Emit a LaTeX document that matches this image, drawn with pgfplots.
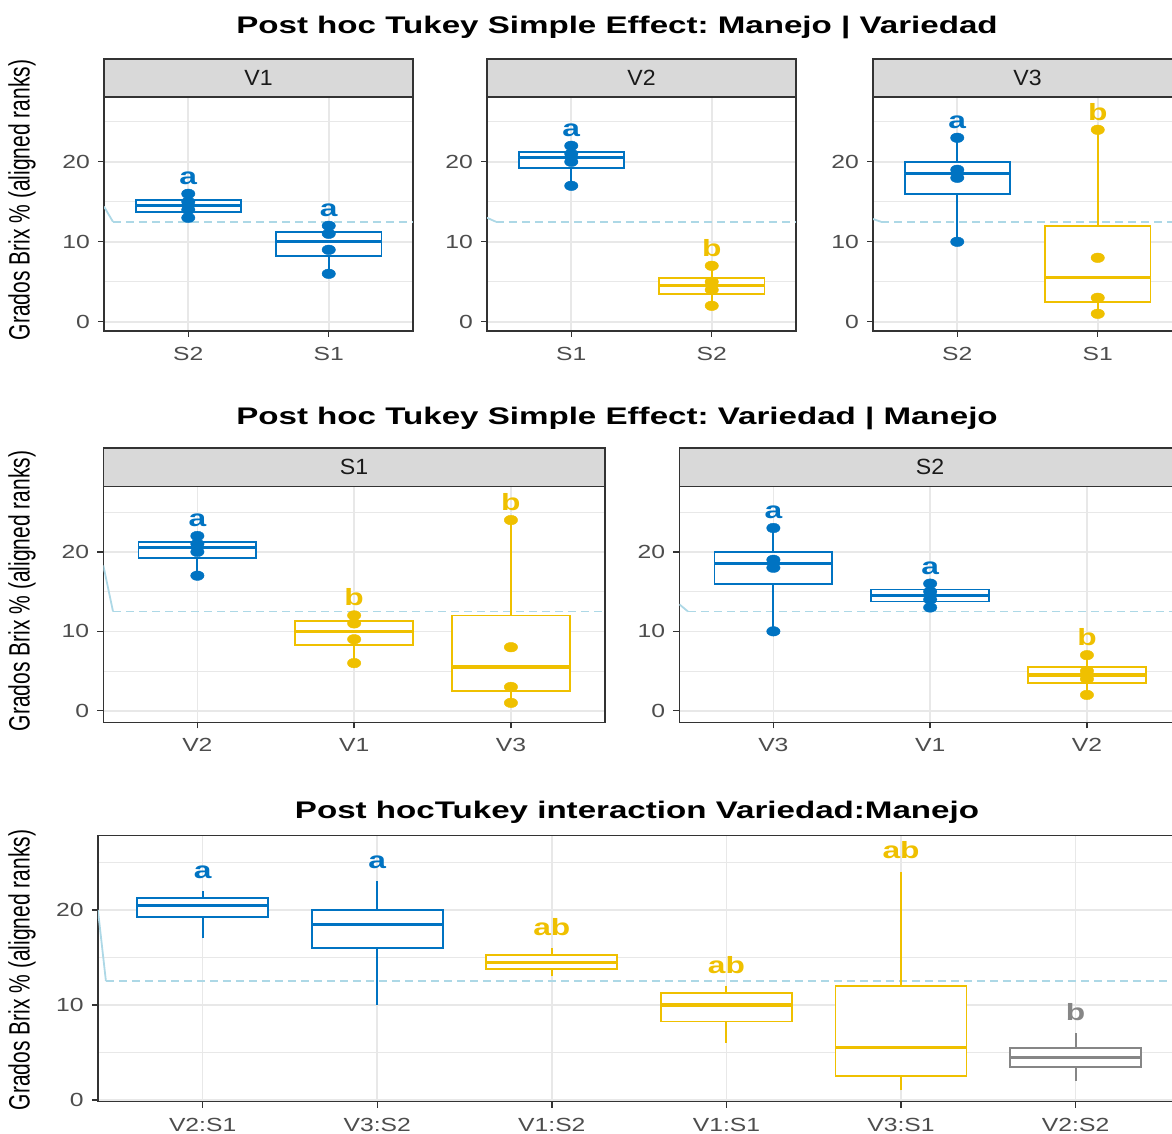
\documentclass[border=0pt]{standalone}
\usepackage{pgfplots}
\pgfplotsset{compat=1.18}
\usepgfplotslibrary{statistics}
\usepackage{graphicx}
\usepackage{fontspec}
\setmainfont{Liberation Sans}
\frenchspacing
\definecolor{jblue}{HTML}{0073C2}
\definecolor{jyel}{HTML}{EFC000}
\definecolor{jgray}{HTML}{868686}
\definecolor{c33}{HTML}{333333}
\definecolor{c4d}{HTML}{4D4D4D}
\definecolor{c1a}{HTML}{1A1A1A}
\definecolor{gridc}{HTML}{E8E8E8}
\definecolor{stripc}{HTML}{D9D9D9}
\definecolor{lblue}{HTML}{ADD8E6}
\newcommand\st[2][1.3]{\scalebox{#1}[1]{#2}}
\newcommand\tl[1]{\st[1.3]{#1}}
\newcommand\lt[2]{\st[1.35]{\fontsize{23.5}{23.5}\selectfont\bfseries\color{#1}#2}}
\newcommand\ttl[1]{\st[1.38]{\fontsize{24}{24}\selectfont\bfseries #1}}
\newcommand\ylab{\st[1.4]{\rotatebox{90}{\fontsize{21}{21}\selectfont Grados Brix \% (aligned ranks)}}}
% whiskers: color, x, lower whisker, q1, q3, upper whisker
\newcommand\whk[6]{%
  \addplot[#1, line width=2.1pt] coordinates {(#2,#3) (#2,#4)};%
  \addplot[#1, line width=2.1pt] coordinates {(#2,#5) (#2,#6)};}
\pgfplotsset{
  boxplot/every box/.style={line width=1.8pt},
  boxplot/every whisker/.style={line width=1.8pt},
  boxplot/every median/.style={line width=3.2pt},
  gg/.style={
    scale only axis, anchor=south west,
    axis line style={draw=c33, line width=1.4pt},
    tick pos=left, tick align=outside,
    major tick length=6pt, minor tick length=0pt,
    tick style={draw=c33, line width=1.4pt},
    xmajorgrids, ymajorgrids, yminorgrids,
    major grid style={draw=gridc, line width=1.6pt},
    minor grid style={draw=gridc, line width=0.9pt},
    ytick={0,10,20}, minor ytick={5,15,25},
    yticklabels={\tl{0},\tl{10},\tl{20}},
    tick label style={font=\fontsize{19}{19}\selectfont, text=c4d, inner sep=0pt},
    yticklabel style={anchor=east, xshift=-8pt},
    xticklabel style={anchor=north, yshift=-10pt},
  },
  bx/.style={boxplot prepared={#1}, boxplot/draw direction=y, solid, line width=1.8pt, fill=white,
    boxplot/box extend=0.75, boxplot/whisker extend=0},
  pts/.style={only marks, mark=*, mark size=4.8pt, mark options={xscale=1.4}},
  hl/.style={draw=lblue, line width=1.8pt},
  hd/.style={draw=lblue, line width=1.8pt, dash pattern=on 8pt off 5pt},
}
\begin{document}
\begin{tikzpicture}
\useasboundingbox (0pt,0pt) rectangle (1172pt,1133pt);
% ---------- titles and y labels
\node[anchor=base] at (617pt,1099pt) {\ttl{Post hoc Tukey Simple Effect: Manejo | Variedad}};
\node[anchor=base] at (617pt,708.5pt) {\ttl{Post hoc Tukey Simple Effect: Variedad | Manejo}};
\node[anchor=base] at (637pt,314.5pt) {\ttl{Post hocTukey interaction Variedad:Manejo}};
\node at (22pt,933pt) {\ylab};
\node at (22pt,542pt) {\ylab};
\node at (22pt,163pt) {\ylab};
% ---------- strips row 1
\draw[fill=stripc, draw=c33, line width=1.4pt] (104pt,1036pt) rectangle (413pt,1074pt);
\draw[fill=stripc, draw=c33, line width=1.4pt] (487pt,1036pt) rectangle (796pt,1074pt);
\draw[fill=stripc, draw=c33, line width=1.4pt] (873pt,1036pt) rectangle (1182pt,1074pt);
\node[text=c1a] at (258.5pt,1055pt) {\st[1.05]{\fontsize{22}{22}\selectfont V1}};
\node[text=c1a] at (641.5pt,1055pt) {\st[1.05]{\fontsize{22}{22}\selectfont V2}};
\node[text=c1a] at (1027.5pt,1055pt) {\st[1.05]{\fontsize{22}{22}\selectfont V3}};
% ---------- strips row 2
\draw[fill=stripc, draw=c33, line width=1.4pt] (103.3pt,646.4pt) rectangle (605pt,685pt);
\draw[fill=stripc, draw=c33, line width=1.4pt] (679.3pt,646.4pt) rectangle (1181pt,685pt);
\node[text=c1a] at (354pt,665.7pt) {\st[1.05]{\fontsize{22}{22}\selectfont S1}};
\node[text=c1a] at (930pt,665.7pt) {\st[1.05]{\fontsize{22}{22}\selectfont S2}};

% ================= Row 1: V1
\begin{axis}[gg, at={(104pt,802pt)}, width=309pt, height=234pt,
  xmin=0.4, xmax=2.6, ymin=-1.15, ymax=28.1,
  xtick={1,2}, xticklabels={\tl{S2},\tl{S1}}]
\addplot[hl] coordinates {(0.4,14.4) (0.464,12.5)};
\addplot[hd] coordinates {(0.464,12.5) (2.6,12.5)};
\addplot[jblue, bx={draw position=1, lower whisker=13, lower quartile=13.75, median=14.5, upper quartile=15.25, upper whisker=16}] coordinates {};
\addplot[jblue, bx={draw position=2, lower whisker=6, lower quartile=8.25, median=10, upper quartile=11.25, upper whisker=12}] coordinates {};
\whk{jblue}{1}{13}{13.75}{15.25}{16}
\whk{jblue}{2}{6}{8.25}{11.25}{12}
\addplot[jblue, pts] coordinates {(1,13) (1,14) (1,15) (1,16)};
\addplot[jblue, pts] coordinates {(2,6) (2,9) (2,11) (2,12)};
\node[anchor=base, inner sep=0pt] at (axis cs:1,17.2) {\lt{jblue}{a}};
\node[anchor=base, inner sep=0pt] at (axis cs:2,13.2) {\lt{jblue}{a}};
\end{axis}
% ================= Row 1: V2
\begin{axis}[gg, at={(487pt,802pt)}, width=309pt, height=234pt,
  xmin=0.4, xmax=2.6, ymin=-1.15, ymax=28.1,
  xtick={1,2}, xticklabels={\tl{S1},\tl{S2}}]
\addplot[hl] coordinates {(0.4,13.0) (0.464,12.5)};
\addplot[hd] coordinates {(0.464,12.5) (2.6,12.5)};
\addplot[jblue, bx={draw position=1, lower whisker=17, lower quartile=19.25, median=20.5, upper quartile=21.25, upper whisker=22}] coordinates {};
\addplot[jyel, bx={draw position=2, lower whisker=2, lower quartile=3.5, median=4.5, upper quartile=5.5, upper whisker=7}] coordinates {};
\whk{jblue}{1}{17}{19.25}{21.25}{22}
\whk{jyel}{2}{2}{3.5}{5.5}{7}
\addplot[jblue, pts] coordinates {(1,17) (1,20) (1,21) (1,22)};
\addplot[jyel, pts] coordinates {(2,2) (2,4) (2,5) (2,7)};
\node[anchor=base, inner sep=0pt] at (axis cs:1,23.2) {\lt{jblue}{a}};
\node[anchor=base, inner sep=0pt] at (axis cs:2,8.2) {\lt{jyel}{b}};
\end{axis}
% ================= Row 1: V3
\begin{axis}[gg, at={(873pt,802pt)}, width=309pt, height=234pt,
  xmin=0.4, xmax=2.6, ymin=-1.15, ymax=28.1,
  xtick={1,2}, xticklabels={\tl{S2},\tl{S1}}]
\addplot[hl] coordinates {(0.4,12.85) (0.457,12.5)};
\addplot[hd] coordinates {(0.457,12.5) (2.6,12.5)};
\addplot[jblue, bx={draw position=1, lower whisker=10, lower quartile=16, median=18.5, upper quartile=20, upper whisker=23}] coordinates {};
\addplot[jyel, bx={draw position=2, lower whisker=1, lower quartile=2.5, median=5.5, upper quartile=12, upper whisker=24}] coordinates {};
\whk{jblue}{1}{10}{16}{20}{23}
\whk{jyel}{2}{1}{2.5}{12}{24}
\addplot[jblue, pts] coordinates {(1,10) (1,18) (1,19) (1,23)};
\addplot[jyel, pts] coordinates {(2,1) (2,3) (2,8) (2,24)};
\node[anchor=base, inner sep=0pt] at (axis cs:1,24.2) {\lt{jblue}{a}};
\node[anchor=base, inner sep=0pt] at (axis cs:2,25.2) {\lt{jyel}{b}};
\end{axis}

% ================= Row 2: S1
\begin{axis}[gg, at={(103.3pt,410.7pt)}, width=501.7pt, height=235.6pt,
  xmin=0.4, xmax=3.6, ymin=-1.45, ymax=28.2,
  xtick={1,2,3}, xticklabels={\tl{V2},\tl{V1},\tl{V3}}]
\addplot[hl] coordinates {(0.4,18.3) (0.462,12.5)};
\addplot[hd] coordinates {(0.462,12.5) (3.6,12.5)};
\addplot[jblue, bx={draw position=1, lower whisker=17, lower quartile=19.25, median=20.5, upper quartile=21.25, upper whisker=22}] coordinates {};
\addplot[jyel, bx={draw position=2, lower whisker=6, lower quartile=8.25, median=10, upper quartile=11.25, upper whisker=12}] coordinates {};
\addplot[jyel, bx={draw position=3, lower whisker=1, lower quartile=2.5, median=5.5, upper quartile=12, upper whisker=24}] coordinates {};
\whk{jblue}{1}{17}{19.25}{21.25}{22}
\whk{jyel}{2}{6}{8.25}{11.25}{12}
\whk{jyel}{3}{1}{2.5}{12}{24}
\addplot[jblue, pts] coordinates {(1,17) (1,20) (1,21) (1,22)};
\addplot[jyel, pts] coordinates {(2,6) (2,9) (2,11) (2,12)};
\addplot[jyel, pts] coordinates {(3,1) (3,3) (3,8) (3,24)};
\node[anchor=base, inner sep=0pt] at (axis cs:1,23.2) {\lt{jblue}{a}};
\node[anchor=base, inner sep=0pt] at (axis cs:2,13.2) {\lt{jyel}{b}};
\node[anchor=base, inner sep=0pt] at (axis cs:3,25.2) {\lt{jyel}{b}};
\end{axis}
% ================= Row 2: S2
\begin{axis}[gg, at={(679.3pt,410.7pt)}, width=501.7pt, height=235.6pt,
  xmin=0.4, xmax=3.6, ymin=-1.45, ymax=28.2,
  xtick={1,2,3}, xticklabels={\tl{V3},\tl{V1},\tl{V2}}]
\addplot[hl] coordinates {(0.4,13.4) (0.455,12.5)};
\addplot[hd] coordinates {(0.455,12.5) (3.6,12.5)};
\addplot[jblue, bx={draw position=1, lower whisker=10, lower quartile=16, median=18.5, upper quartile=20, upper whisker=23}] coordinates {};
\addplot[jblue, bx={draw position=2, lower whisker=13, lower quartile=13.75, median=14.5, upper quartile=15.25, upper whisker=16}] coordinates {};
\addplot[jyel, bx={draw position=3, lower whisker=2, lower quartile=3.5, median=4.5, upper quartile=5.5, upper whisker=7}] coordinates {};
\whk{jblue}{1}{10}{16}{20}{23}
\whk{jblue}{2}{13}{13.75}{15.25}{16}
\whk{jyel}{3}{2}{3.5}{5.5}{7}
\addplot[jblue, pts] coordinates {(1,10) (1,18) (1,19) (1,23)};
\addplot[jblue, pts] coordinates {(2,13) (2,14) (2,15) (2,16)};
\addplot[jyel, pts] coordinates {(3,2) (3,4) (3,5) (3,7)};
\node[anchor=base, inner sep=0pt] at (axis cs:1,24.2) {\lt{jblue}{a}};
\node[anchor=base, inner sep=0pt] at (axis cs:2,17.2) {\lt{jblue}{a}};
\node[anchor=base, inner sep=0pt] at (axis cs:3,8.2) {\lt{jyel}{b}};
\end{axis}

% ================= Row 3: interaction
\begin{axis}[gg, at={(97.9pt,31.3pt)}, width=1082.5pt, height=266pt,
  xmin=0.4, xmax=6.6, ymin=-0.18, ymax=27.8,
  xtick={1,2,3,4,5,6}, xticklabels={\tl{V2:S1},\tl{V3:S2},\tl{V1:S2},\tl{V1:S1},\tl{V3:S1},\tl{V2:S2}}]
\addplot[hl] coordinates {(0.4,20) (0.446,12.5)};
\addplot[hd] coordinates {(0.446,12.5) (6.6,12.5)};
\addplot[jblue, bx={draw position=1, lower whisker=17, lower quartile=19.25, median=20.5, upper quartile=21.25, upper whisker=22}] coordinates {};
\addplot[jblue, bx={draw position=2, lower whisker=10, lower quartile=16, median=18.5, upper quartile=20, upper whisker=23}] coordinates {};
\addplot[jyel, bx={draw position=3, lower whisker=13, lower quartile=13.75, median=14.5, upper quartile=15.25, upper whisker=16}] coordinates {};
\addplot[jyel, bx={draw position=4, lower whisker=6, lower quartile=8.25, median=10, upper quartile=11.25, upper whisker=12}] coordinates {};
\addplot[jyel, bx={draw position=5, lower whisker=1, lower quartile=2.5, median=5.5, upper quartile=12, upper whisker=24}] coordinates {};
\addplot[jgray, bx={draw position=6, lower whisker=2, lower quartile=3.5, median=4.5, upper quartile=5.5, upper whisker=7}] coordinates {};
\whk{jblue}{1}{17}{19.25}{21.25}{22}
\whk{jblue}{2}{10}{16}{20}{23}
\whk{jyel}{3}{13}{13.75}{15.25}{16}
\whk{jyel}{4}{6}{8.25}{11.25}{12}
\whk{jyel}{5}{1}{2.5}{12}{24}
\whk{jgray}{6}{2}{3.5}{5.5}{7}
\node[anchor=base, inner sep=0pt] at (axis cs:1,23.35) {\lt{jblue}{a}};
\node[anchor=base, inner sep=0pt] at (axis cs:2,24.35) {\lt{jblue}{a}};
\node[anchor=base, inner sep=0pt] at (axis cs:3,17.35) {\lt{jyel}{ab}};
\node[anchor=base, inner sep=0pt] at (axis cs:4,13.35) {\lt{jyel}{ab}};
\node[anchor=base, inner sep=0pt] at (axis cs:5,25.35) {\lt{jyel}{ab}};
\node[anchor=base, inner sep=0pt] at (axis cs:6,8.35) {\lt{jgray}{b}};
\end{axis}
\end{tikzpicture}
\end{document}
